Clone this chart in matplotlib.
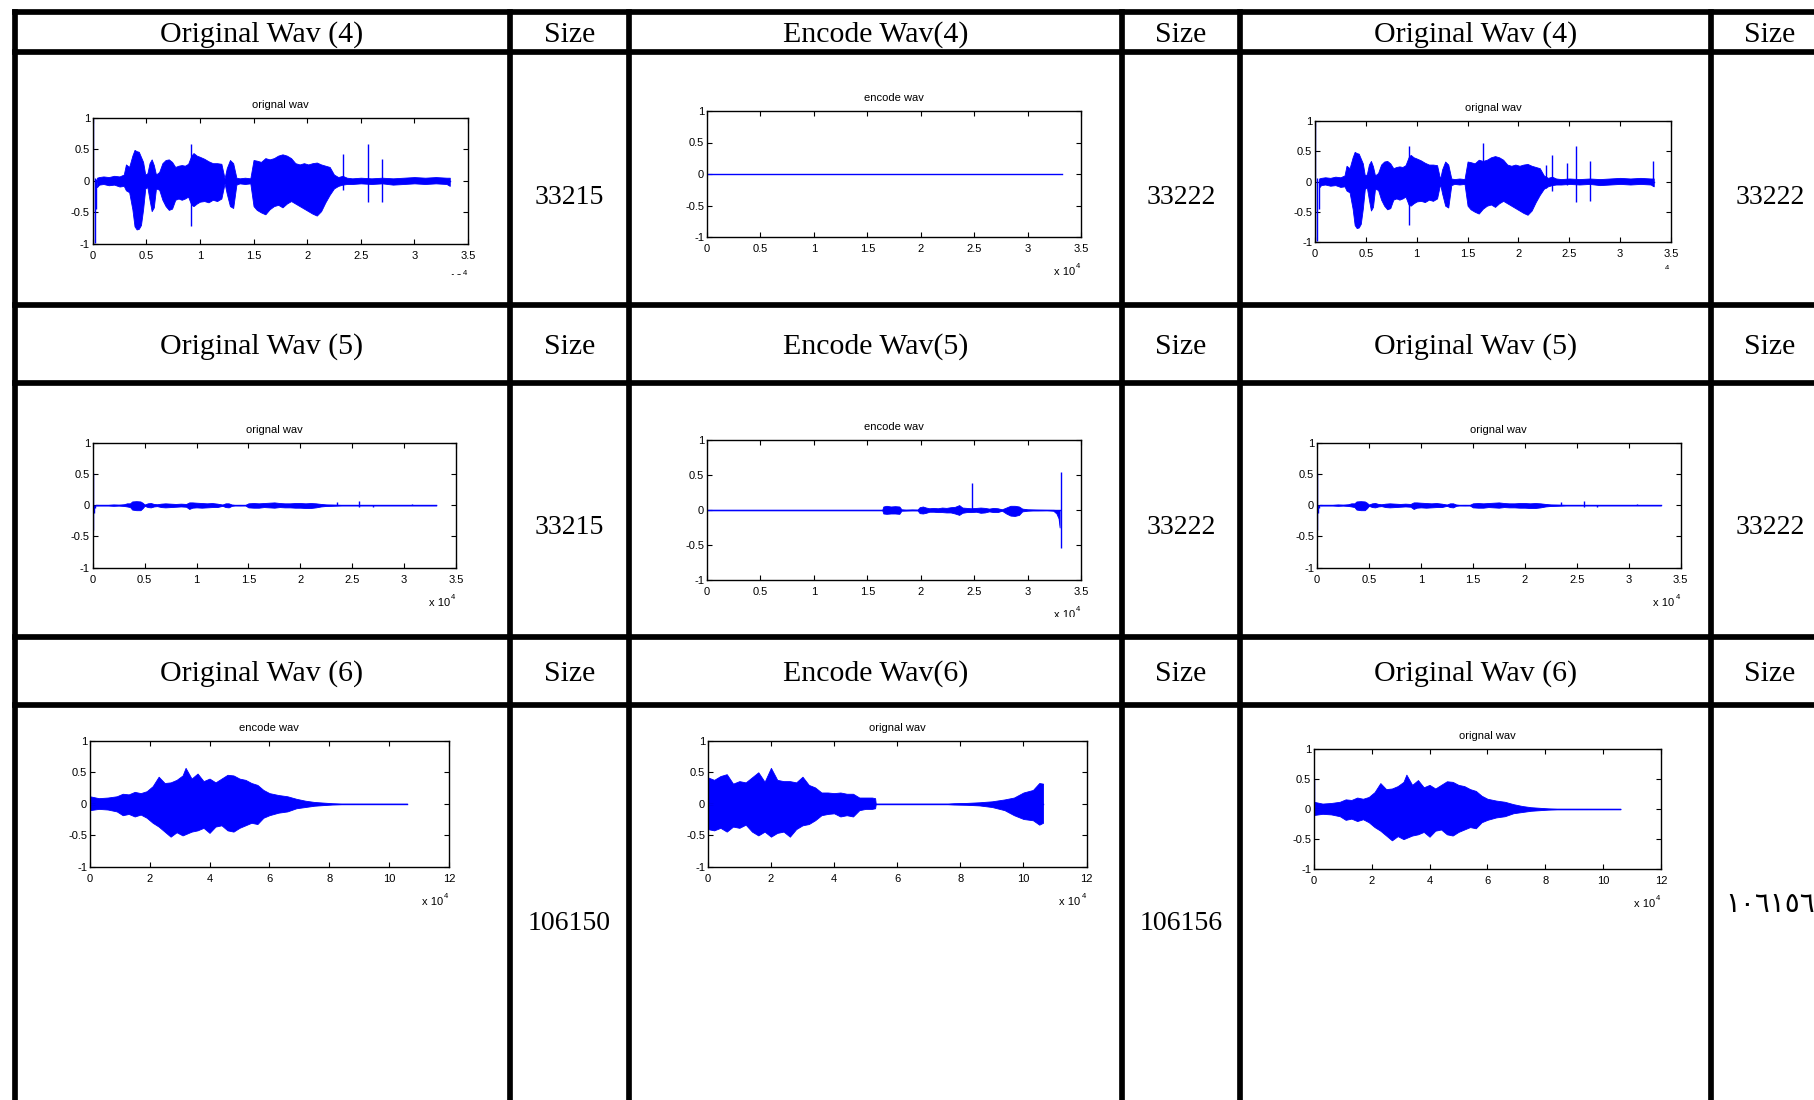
import numpy as np
import matplotlib
matplotlib.use('Agg')
import matplotlib.pyplot as plt
from matplotlib.transforms import Bbox

W, H, DPI = 1814, 1100, 100
BLUE = '#0000ff'

# ---- table text ----
headers = [
    ['Original Wav (4)', 'Size', 'Encode Wav(4)', 'Size', 'Original Wav (4)', 'Size'],
    ['Original Wav (5)', 'Size', 'Encode Wav(5)', 'Size', 'Original Wav (5)', 'Size'],
    ['Original Wav (6)', 'Size', 'Encode Wav(6)', 'Size', 'Original Wav (6)', 'Size'],
]
sizes = [
    ['33215', '33222', '33222'],
    ['33215', '33222', '33222'],
    ['106150', '106156', '١٠٦١٥٦'],
]
plot_titles = [
    ['orignal wav', 'encode wav', 'orignal wav'],
    ['orignal wav', 'encode wav', 'orignal wav'],
    ['encode wav', 'orignal wav', 'orignal wav'],
]

# ---- waveform envelopes (x in units of 10^4 samples) ----
wav4_x = [0.04, 0.06, 0.10, 0.15, 0.20, 0.25, 0.29, 0.31, 0.34, 0.37, 0.39, 0.41, 0.43, 0.45,
          0.47, 0.49, 0.51, 0.53, 0.55, 0.57, 0.59, 0.62, 0.65, 0.68, 0.71, 0.74, 0.77, 0.80,
          0.83, 0.86, 0.89, 0.92, 0.94, 0.97, 1.00, 1.04, 1.08, 1.12, 1.16, 1.20, 1.23, 1.25,
          1.28, 1.31, 1.34, 1.37, 1.42, 1.47, 1.50, 1.53, 1.57, 1.61, 1.65, 1.69, 1.73, 1.77,
          1.81, 1.85, 1.89, 1.93, 1.97, 2.01, 2.05, 2.09, 2.13, 2.17, 2.21, 2.25, 2.29, 2.33,
          2.37, 2.42, 2.50, 2.60, 2.70, 2.80, 2.90, 3.00, 3.10, 3.20, 3.30, 3.33]
wav4_top = [0.05, 0.06, 0.07, 0.06, 0.08, 0.07, 0.10, 0.26, 0.22, 0.40, 0.49, 0.47, 0.46, 0.38,
            0.30, 0.10, 0.12, 0.28, 0.34, 0.25, 0.10, 0.14, 0.28, 0.33, 0.34, 0.30, 0.22, 0.24,
            0.25, 0.24, 0.27, 0.40, 0.44, 0.40, 0.38, 0.35, 0.31, 0.28, 0.28, 0.27, 0.04, 0.20,
            0.33, 0.28, 0.05, 0.04, 0.05, 0.04, 0.33, 0.32, 0.30, 0.36, 0.34, 0.36, 0.40, 0.42,
            0.40, 0.36, 0.28, 0.26, 0.28, 0.26, 0.28, 0.29, 0.26, 0.24, 0.22, 0.10, 0.06, 0.08,
            0.05, 0.04, 0.05, 0.04, 0.05, 0.04, 0.05, 0.06, 0.05, 0.06, 0.05, 0.05]
wav4_bot = [-0.10, -0.06, -0.05, -0.07, -0.06, -0.09, -0.08, -0.15, -0.18, -0.45, -0.72, -0.77,
            -0.76, -0.70, -0.45, -0.12, -0.10, -0.30, -0.48, -0.42, -0.12, -0.14, -0.30, -0.40,
            -0.46, -0.44, -0.30, -0.28, -0.30, -0.28, -0.25, -0.38, -0.40, -0.36, -0.33, -0.32,
            -0.34, -0.30, -0.32, -0.28, -0.04, -0.20, -0.40, -0.43, -0.06, -0.04, -0.05, -0.04,
            -0.40, -0.46, -0.50, -0.53, -0.45, -0.40, -0.38, -0.42, -0.36, -0.32, -0.36, -0.40,
            -0.44, -0.48, -0.52, -0.55, -0.48, -0.34, -0.22, -0.12, -0.08, -0.06, -0.05, -0.05,
            -0.04, -0.05, -0.04, -0.06, -0.05, -0.04, -0.05, -0.04, -0.05, -0.08]
wav4_spike_x = [0.0, 0.02, 0.035, 0.92, 2.33, 2.57, 2.70]
wav4_spike_lo = [-1.0, -0.98, -0.45, -0.72, -0.15, -0.34, -0.33]
wav4_spike_hi = [1.0, 0.05, 0.03, 0.58, 0.43, 0.58, 0.34]
# extra spikes only in the third-column copy
wav4b_spike_x = [1.65, 2.27, 2.48, 3.32]
wav4b_spike_lo = [-0.20, -0.10, -0.05, -0.08]
wav4b_spike_hi = [0.63, 0.28, 0.31, 0.34]

enc4_end = 3.32

wav5_x = [0.03, 0.15, 0.20, 0.25, 0.30, 0.33, 0.36, 0.38, 0.42, 0.46, 0.48, 0.50, 0.53, 0.56,
          0.59, 0.62, 0.66, 0.70, 0.75, 0.80, 0.85, 0.90, 0.93, 0.96, 1.00, 1.05, 1.10, 1.15,
          1.20, 1.25, 1.28, 1.31, 1.34, 1.37, 1.42, 1.47, 1.50, 1.55, 1.60, 1.65, 1.70, 1.75,
          1.80, 1.85, 1.90, 1.95, 2.00, 2.05, 2.10, 2.15, 2.20, 2.25, 2.30, 2.40, 2.60, 3.00, 3.31]
wav5_top = [0.005, 0.005, 0.012, 0.008, 0.015, 0.03, 0.03, 0.06, 0.065, 0.06, 0.04, 0.01, 0.03,
            0.035, 0.02, 0.015, 0.025, 0.03, 0.025, 0.02, 0.025, 0.02, 0.045, 0.045, 0.04, 0.035,
            0.03, 0.035, 0.025, 0.01, 0.03, 0.03, 0.01, 0.004, 0.005, 0.004, 0.03, 0.035, 0.03,
            0.035, 0.04, 0.045, 0.035, 0.03, 0.03, 0.035, 0.035, 0.03, 0.035, 0.03, 0.02, 0.012,
            0.01, 0.004, 0.004, 0.004, 0.004]
wav5_bot = [-0.005, -0.005, -0.01, -0.006, -0.012, -0.02, -0.03, -0.07, -0.08, -0.08, -0.05,
            -0.01, -0.03, -0.035, -0.02, -0.015, -0.03, -0.035, -0.03, -0.025, -0.02, -0.025,
            -0.06, -0.04, -0.035, -0.04, -0.035, -0.03, -0.03, -0.01, -0.03, -0.035, -0.01,
            -0.004, -0.005, -0.004, -0.035, -0.04, -0.04, -0.03, -0.035, -0.04, -0.03, -0.035,
            -0.035, -0.04, -0.04, -0.045, -0.045, -0.035, -0.02, -0.012, -0.01, -0.004, -0.004,
            -0.004, -0.004]
wav5_spike_x = [0.0, 0.01, 0.02, 2.35, 2.57, 2.70, 3.08]
wav5_spike_lo = [-0.40, -0.12, -0.05, 0.0, -0.03, -0.03, 0.0]
wav5_spike_hi = [0.52, 0.0, 0.0, 0.05, 0.06, 0.01, 0.02]

enc5_x = [0.00, 1.64, 1.65, 1.68, 1.72, 1.76, 1.80, 1.82, 1.86, 1.92, 1.97, 1.99, 2.02, 2.05,
          2.08, 2.12, 2.16, 2.20, 2.24, 2.28, 2.32, 2.36, 2.39, 2.43, 2.47, 2.52, 2.56, 2.60,
          2.64, 2.68, 2.72, 2.76, 2.80, 2.84, 2.88, 2.92, 2.95, 3.00, 3.05, 3.10, 3.18, 3.24,
          3.27, 3.29, 3.30]
enc5_top = [0.003, 0.003, 0.05, 0.06, 0.05, 0.055, 0.05, 0.01, 0.005, 0.008, 0.006, 0.04, 0.05,
            0.035, 0.025, 0.03, 0.025, 0.035, 0.03, 0.04, 0.045, 0.07, 0.035, 0.03, 0.025, 0.03,
            0.035, 0.03, 0.02, 0.03, 0.025, 0.01, 0.035, 0.06, 0.06, 0.05, 0.02, 0.01, 0.008,
            0.006, 0.004, 0.003, 0.0, 0.0, 0.0]
enc5_bot = [-0.003, -0.003, -0.05, -0.055, -0.05, -0.05, -0.055, -0.01, -0.008, -0.005, -0.006,
            -0.045, -0.05, -0.04, -0.025, -0.025, -0.03, -0.03, -0.035, -0.035, -0.05, -0.07,
            -0.04, -0.03, -0.03, -0.025, -0.04, -0.035, -0.02, -0.03, -0.03, -0.01, -0.05, -0.08,
            -0.085, -0.07, -0.02, -0.01, -0.006, -0.006, -0.004, -0.01, -0.05, -0.12, -0.25]
enc5_spike_x = [2.48, 3.31]
enc5_spike_lo = [0.0, -0.54]
enc5_spike_hi = [0.39, 0.54]

wav6_x = [0.0, 0.3, 0.6, 0.9, 1.1, 1.3, 1.5, 1.7, 1.9, 2.1, 2.3, 2.5, 2.7, 2.9, 3.1, 3.2, 3.4,
          3.6, 3.8, 4.0, 4.2, 4.4, 4.6, 4.8, 5.0, 5.2, 5.4, 5.6, 5.8, 6.0, 6.3, 6.6, 6.9, 7.2,
          7.5, 7.8, 8.1, 8.4, 10.6]
wav6_top = [0.12, 0.09, 0.10, 0.12, 0.16, 0.15, 0.19, 0.17, 0.20, 0.28, 0.43, 0.33, 0.34, 0.38,
            0.45, 0.57, 0.40, 0.48, 0.36, 0.40, 0.34, 0.40, 0.46, 0.45, 0.40, 0.38, 0.33, 0.30,
            0.22, 0.17, 0.14, 0.12, 0.08, 0.05, 0.03, 0.02, 0.01, 0.004, 0.003]
wav6_bot = [-0.10, -0.08, -0.09, -0.12, -0.18, -0.16, -0.20, -0.17, -0.22, -0.30, -0.36, -0.44,
            -0.52, -0.45, -0.50, -0.48, -0.44, -0.42, -0.38, -0.46, -0.36, -0.34, -0.42, -0.44,
            -0.38, -0.34, -0.30, -0.32, -0.22, -0.18, -0.14, -0.12, -0.07, -0.05, -0.03, -0.02,
            -0.01, -0.004, -0.003]

enc6_x = [0.0, 0.2, 0.4, 0.6, 0.8, 1.0, 1.2, 1.4, 1.6, 1.8, 2.0, 2.2, 2.4, 2.6, 2.8, 3.0, 3.2,
          3.4, 3.6, 3.8, 4.0, 4.2, 4.4, 4.6, 4.8, 5.0, 5.2, 5.3, 5.32, 7.6, 7.8, 8.2, 8.6, 9.0,
          9.4, 9.7, 10.0, 10.3, 10.5, 10.62]
enc6_top = [0.42, 0.38, 0.44, 0.47, 0.32, 0.36, 0.34, 0.42, 0.50, 0.35, 0.57, 0.38, 0.36, 0.36,
            0.34, 0.43, 0.30, 0.26, 0.18, 0.18, 0.17, 0.18, 0.16, 0.16, 0.10, 0.10, 0.10, 0.09,
            0.004, 0.004, 0.01, 0.015, 0.025, 0.04, 0.07, 0.10, 0.18, 0.22, 0.33, 0.32]
enc6_bot = [-0.40, -0.42, -0.38, -0.44, -0.36, -0.38, -0.33, -0.44, -0.50, -0.44, -0.52, -0.46,
            -0.44, -0.52, -0.40, -0.34, -0.32, -0.26, -0.18, -0.16, -0.15, -0.20, -0.18, -0.20,
            -0.10, -0.08, -0.08, -0.07, -0.004, -0.004, -0.01, -0.015, -0.025, -0.05, -0.10,
            -0.18, -0.24, -0.26, -0.33, -0.30]

# ---- layout (pixels, y from top) ----
col_x = [14.7, 510, 629, 1122, 1240, 1711]
row_y = [12, 52, 305, 383, 637, 705]
text_cx = [262, 569.5, 875.5, 1181, 1475.5, 1770]
header_cy = [35, 347, 674]
size_cy = [197, 528, 924]

axes_boxes = [
    [(92.7, 117.7, 468, 244), (707, 111, 1081, 237), (1315, 121, 1671, 242)],
    [(92.7, 442.7, 456, 567.7), (707, 440, 1081, 580), (1317, 442.7, 1680.6, 567.7)],
    [(89.8, 740.7, 449, 867), (707.8, 740.7, 1086.6, 867), (1313.8, 748.7, 1661, 869.3)],
]
# bottom edge where the pasted figure image is cut off (None = not cut)
clip_y = [[275, None, 269], [None, 617, None], [None, None, None]]

fig = plt.figure(figsize=(W / DPI, H / DPI), dpi=DPI)
bg = fig.add_axes([0, 0, 1, 1])
bg.set_xlim(0, W)
bg.set_ylim(H, 0)
bg.axis('off')

LW = 4.1
for x in col_x:
    bg.plot([x, x], [row_y[0], H + 5], color='black', lw=LW, solid_capstyle='projecting')
for y in row_y:
    bg.plot([col_x[0], W + 5], [y, y], color='black', lw=LW, solid_capstyle='projecting')

serif = ['Liberation Serif', 'DejaVu Sans']
sans = ['Liberation Sans', 'DejaVu Sans']
for r in range(3):
    for c in range(6):
        bg.text(text_cx[c], header_cy[r], headers[r][c], ha='center', va='center',
                fontsize=21.5, family=serif)
    for k in range(3):
        cy = size_cy[r]
        if sizes[r][k].startswith('١'):
            cy = 905
        bg.text(text_cx[2 * k + 1], cy, sizes[r][k], ha='center', va='center',
                fontsize=20, family=serif)


def draw_wave(r, c, xmax, env=None, spikes=None, base_end=None, label_mode='full'):
    l, t, rr, b = axes_boxes[r][c]
    ax = fig.add_axes([l / W, 1 - b / H, (rr - l) / W, (b - t) / H])
    if base_end is not None:
        ax.plot([0, base_end], [0, 0], color=BLUE, lw=1.0)
    if env is not None:
        ex, et, eb = env
        ax.fill_between(ex, eb, et, color=BLUE, lw=0.6)
        ax.plot([ex[0], ex[-1]], [0, 0], color=BLUE, lw=1.0)
    if spikes is not None:
        for sx, slo, shi in spikes:
            ax.vlines(sx, slo, shi, color=BLUE, lw=1.0)
    ax.set_xlim(0, xmax)
    ax.set_ylim(-1, 1)
    step = 0.5 if xmax < 5 else 2
    xt = np.arange(0, xmax + step / 2, step)
    ax.set_xticks(xt)
    ax.set_xticklabels(['%g' % v for v in xt], family=sans, fontsize=8)
    yt = [-1, -0.5, 0, 0.5, 1]
    ax.set_yticks(yt)
    ax.set_yticklabels(['%g' % v for v in yt], family=sans, fontsize=8)
    ax.tick_params(direction='in', length=3.5, width=0.8, top=True, right=True)
    ax.tick_params(axis='x', pad=5)
    ax.tick_params(axis='y', pad=2)
    for s in ax.spines.values():
        s.set_linewidth(1.0)
    bg.text((l + rr) / 2, t - 13, plot_titles[r][c], ha='center', va='center',
            fontsize=8, family=sans)
    texts = []
    if label_mode == 'full':
        texts.append(bg.text(rr - 6, b + 35, 'x 10', ha='right', va='center',
                             fontsize=8, family=sans))
        texts.append(bg.text(rr - 5, b + 29.5, '4', ha='left', va='center',
                             fontsize=5.5, family=sans))
    else:
        texts.append(bg.text(rr - 4, b + 26, '4', ha='center', va='center',
                             fontsize=5.5, family=sans))
    cy = clip_y[r][c]
    if cy is not None:
        box = Bbox([[0, H - cy], [W, H]])
        for tx in texts:
            tx.set_clip_on(True)
            tx.set_clip_box(box)
    return ax


wav4_env = (wav4_x, wav4_top, wav4_bot)
wav4_sp = list(zip(wav4_spike_x, wav4_spike_lo, wav4_spike_hi))
wav4b_sp = wav4_sp + list(zip(wav4b_spike_x, wav4b_spike_lo, wav4b_spike_hi))
wav5_env = (wav5_x, wav5_top, wav5_bot)
wav5_sp = list(zip(wav5_spike_x, wav5_spike_lo, wav5_spike_hi))
enc5_env = (enc5_x, enc5_top, enc5_bot)
enc5_sp = list(zip(enc5_spike_x, enc5_spike_lo, enc5_spike_hi))
wav6_env = (wav6_x, wav6_top, wav6_bot)
enc6_env = (enc6_x, enc6_top, enc6_bot)

draw_wave(0, 0, 3.5, env=wav4_env, spikes=wav4_sp)
draw_wave(0, 1, 3.5, base_end=enc4_end)
draw_wave(0, 2, 3.5, env=wav4_env, spikes=wav4b_sp, label_mode='exp')
draw_wave(1, 0, 3.5, env=wav5_env, spikes=wav5_sp)
draw_wave(1, 1, 3.5, env=enc5_env, spikes=enc5_sp)
draw_wave(1, 2, 3.5, env=wav5_env, spikes=wav5_sp)
draw_wave(2, 0, 12, env=wav6_env)
draw_wave(2, 1, 12, env=enc6_env)
draw_wave(2, 2, 12, env=wav6_env, spikes=[(0.0, -0.05, 0.5)])

fig.savefig('out.png', dpi=DPI)
